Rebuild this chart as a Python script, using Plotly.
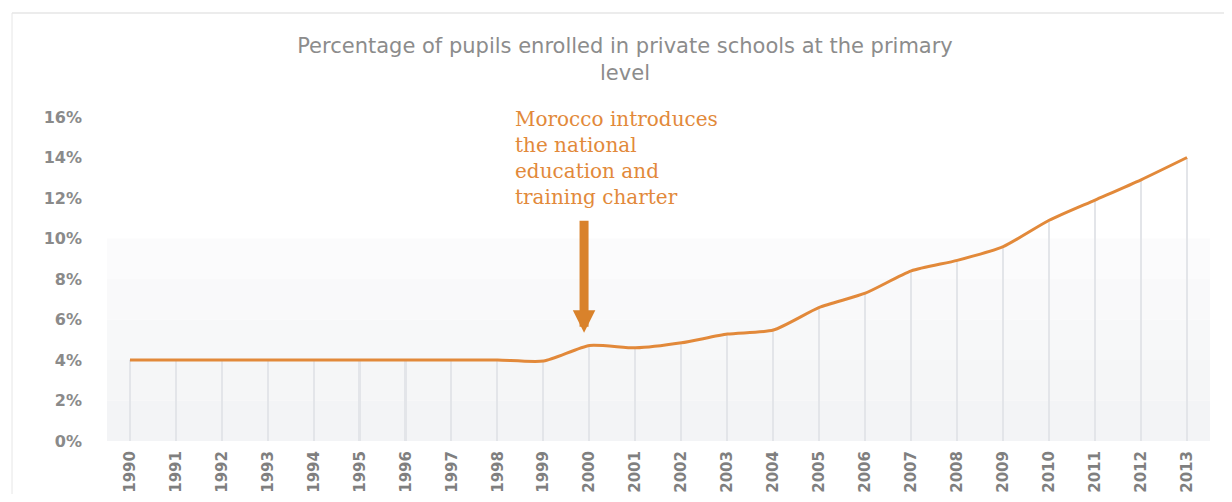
import plotly.graph_objects as go

years = list(range(1990, 2014))
share_pct = [4.0, 4.0, 4.0, 4.0, 4.0, 4.0, 4.0, 4.0, 4.0, 3.95,
             4.72, 4.6, 4.85, 5.28, 5.48, 6.6, 7.3, 8.4, 8.92, 9.6,
             10.9, 11.9, 12.9, 14.0]
y_ticks = [0, 2, 4, 6, 8, 10, 12, 14, 16]
y_tick_text = [f"{v}%" for v in y_ticks]

title_text = "Percentage of pupils enrolled in private schools at the primary<br>level"
note_text = "Morocco introduces<br>the national<br>education and<br>training charter"

ORANGE = "#E2893A"
OFF = 8  # page body margin
W, H = 1232 - 2 * OFF, 502 - 2 * OFF
L, T = 107 - OFF, 117 - OFF
R = W + OFF - 1210   # plot right edge at 1210 px on the page
B = H + OFF - 441    # plot bottom at 441 px on the page

fig = go.Figure()

# light background panel (lower part)
bands = ["#fbfbfc", "#f9f9fa", "#f7f8f9", "#f5f6f7", "#f3f4f6"]
for i, c in enumerate(bands):
    fig.add_shape(type="rect", xref="x", yref="y", x0=1989.5, x1=2013.5,
                  y0=10 - 2 * (i + 1), y1=10 - 2 * i, fillcolor=c,
                  line_width=0, layer="below")

# drop lines
fig.add_trace(go.Bar(x=years, y=share_pct, width=0.035,
                     marker=dict(color="#e3e5e9", line_width=0),
                     hoverinfo="skip", showlegend=False))

fig.add_trace(go.Scatter(x=years, y=share_pct, mode="lines",
                         line=dict(color=ORANGE, width=3, shape="spline", smoothing=0.6),
                         showlegend=False))

pw = W - L - R
ph = H - T - B

# annotation text
fig.add_annotation(x=1998.33, y=(441 - 105) / ph, xref="x", yref="paper", text=note_text,
                   showarrow=False, xanchor="left", yanchor="top", align="left",
                   font=dict(family="DejaVu Serif, Liberation Serif, serif",
                             size=20, color=ORANGE))
# arrow
fig.add_annotation(x=1999.88, y=5.35, ax=1999.88, ay=10.95, xref="x", yref="y",
                   axref="x", ayref="y", text="", showarrow=True,
                   arrowhead=2, arrowsize=0.5, arrowwidth=9, arrowcolor="#D9822B")

# frame lines
fig.add_shape(type="line", xref="paper", yref="paper",
              x0=(12 - OFF - L) / pw, x1=(W - L) / pw,
              y0=(441 - 13) / ph, y1=(441 - 13) / ph,
              line=dict(color="#d9d9d9", width=1))
fig.add_shape(type="line", xref="paper", yref="paper",
              x0=(12 - OFF - L) / pw, x1=(12 - OFF - L) / pw,
              y0=(441 - 13) / ph, y1=-(B + OFF) / ph,
              line=dict(color="#e6e6e6", width=1))

fig.update_layout(
    width=W, height=H,
    margin=dict(l=L, r=R, t=T, b=B),
    paper_bgcolor="white", plot_bgcolor="rgba(0,0,0,0)",
    title=dict(text=title_text, x=(625 - OFF) / W, xanchor="center",
               y=1 - (53 - OFF) / H, yanchor="middle",
               font=dict(family="DejaVu Sans, Verdana, sans-serif",
                         size=21, color="#8c8c8c")),
    bargap=0,
    xaxis=dict(range=[1989.5, 2013.5], tickvals=years,
               ticktext=[str(y) for y in years], tickangle=-90,
               showgrid=False, zeroline=False, showline=False, ticks="",
               ticklabelstandoff=6,
               tickfont=dict(family="DejaVu Sans, Verdana, sans-serif",
                             size=15, color="#7f7f7f", weight="bold"),
               automargin=False),
    yaxis=dict(range=[0, 16], tickvals=y_ticks, ticktext=y_tick_text,
               showgrid=False, zeroline=False, showline=False, ticks="",
               ticklabelstandoff=24,
               tickfont=dict(family="DejaVu Sans, Verdana, sans-serif",
                             size=16, color="#8a8a8a", weight="bold"),
               automargin=False),
)

fig.write_html("out.html")
